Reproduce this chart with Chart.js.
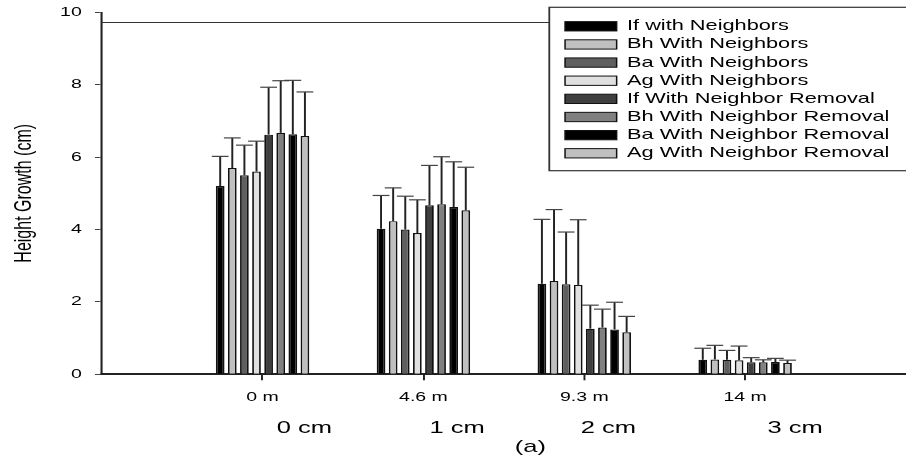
<!DOCTYPE html>
<html>
<head>
<meta charset="utf-8">
<script src="https://cdn.jsdelivr.net/npm/chart.js@4"></script>
<style>
  html, body { margin: 0; padding: 0; background: #fff; overflow: hidden; }
  canvas { display: block; }
</style>
</head>
<body>
<canvas id="c" width="604" height="458"></canvas>
<script>
// The source figure was stretched sideways, so we draw in a narrower space and widen it
const SX = 1.5;
const FONT = '"Liberation Sans", Arial, sans-serif';

// Categories
const distances = ['0 m', '4.6 m', '9.3 m', '14 m'];
const depths = ['0 cm', '1 cm', '2 cm', '3 cm'];
const panelLabel = '(a)';

const seriesNames = [
  'If with Neighbors',
  'Bh With Neighbors',
  'Ba With Neighbors',
  'Ag With Neighbors',
  'If With Neighbor Removal',
  'Bh With Neighbor Removal',
  'Ba With Neighbor Removal',
  'Ag With Neighbor Removal'
];

// Mean height growth (cm) per distance
const ifWith = [5.20, 4.02, 2.50, 0.40];
const bhWith = [5.70, 4.23, 2.58, 0.41];
const baWith = [5.50, 4.00, 2.49, 0.40];
const agWith = [5.60, 3.90, 2.47, 0.39];
const ifRemoval = [6.62, 4.67, 1.26, 0.33];
const bhRemoval = [6.67, 4.70, 1.29, 0.33];
const baRemoval = [6.63, 4.62, 1.24, 0.34];
const agRemoval = [6.58, 4.53, 1.16, 0.31];

// Upper error (cm)
const ifWithErr = [0.82, 0.92, 1.78, 0.32];
const bhWithErr = [0.83, 0.92, 1.97, 0.39];
const baWithErr = [0.83, 0.92, 1.44, 0.26];
const agWithErr = [0.84, 0.92, 1.80, 0.39];
const ifRemovalErr = [1.31, 1.10, 0.65, 0.13];
const bhRemovalErr = [1.44, 1.31, 0.51, 0.07];
const baRemovalErr = [1.49, 1.25, 0.75, 0.10];
const agRemovalErr = [1.22, 1.19, 0.44, 0.08];

const yTicks = [0, 2, 4, 6, 8, 10];

const means = [ifWith, bhWith, baWith, agWith, ifRemoval, bhRemoval, baRemoval, agRemoval];
const errs = [ifWithErr, bhWithErr, baWithErr, agWithErr, ifRemovalErr, bhRemovalErr, baRemovalErr, agRemovalErr];

// Styling / layout
const fills = ['#000000', '#c0c0c0', '#5f5f5f', '#e0e0e0', '#3f3f3f', '#808080', '#000000', '#c0c0c0'];
const depthLabelPos = [1.26, 2.21, 3.15, 4.31]; // in category units
const panelLabelPos = 2.665;
const frameLineValue = 9.72;
const legendBox = { left: 366.2, top: 7.3, bottom: 170.7, firstRow: 26.3, rowGap: 18.14,
  swatchX: 376.7, swatchW: 34.4, swatchH: 9.3, textX: 418 };

// Widen everything drawn
const stretchPlugin = {
  id: 'stretch',
  beforeDraw(chart) {
    chart.ctx.setTransform(SX, 0, 0, 1, 0, 0);
  }
};

// Upper error bars with caps
const errorBarPlugin = {
  id: 'errorBars',
  afterDatasetsDraw(chart) {
    const ctx = chart.ctx;
    const y = chart.scales.y;
    ctx.save();
    chart.data.datasets.forEach((ds, i) => {
      const meta = chart.getDatasetMeta(i);
      meta.data.forEach((bar, j) => {
        const v = ds.data[j];
        const e = ds.err[j];
        if (v == null || e == null) return;
        const top = y.getPixelForValue(v + e);
        ctx.strokeStyle = '#222';
        ctx.lineWidth = 1.3;
        ctx.beginPath();
        ctx.moveTo(bar.x, bar.y);
        ctx.lineTo(bar.x, top);
        ctx.stroke();
        ctx.strokeStyle = '#444';
        ctx.lineWidth = 1.2;
        ctx.beginPath();
        ctx.moveTo(bar.x - 5.6, top);
        ctx.lineTo(bar.x + 5.6, top);
        ctx.stroke();
      });
    });
    ctx.restore();
  }
};

// Depth row, panel label, top frame line and boxed legend
const extrasPlugin = {
  id: 'extras',
  afterDraw(chart) {
    const ctx = chart.ctx;
    const x = chart.scales.x;
    const y = chart.scales.y;
    ctx.save();

    ctx.fillStyle = '#000';
    ctx.font = '17px ' + FONT;
    ctx.textAlign = 'center';
    ctx.textBaseline = 'middle';
    depths.forEach((d, i) => ctx.fillText(d, x.getPixelForValue(depthLabelPos[i]), 428));
    ctx.fillText(panelLabel, x.getPixelForValue(panelLabelPos), 447);

    // top line of the frame, hidden behind the legend on the right
    const fy = y.getPixelForValue(frameLineValue);
    ctx.strokeStyle = '#333';
    ctx.lineWidth = 1;
    ctx.beginPath();
    ctx.moveTo(chart.chartArea.left, fy);
    ctx.lineTo(legendBox.left, fy);
    ctx.stroke();

    // legend
    ctx.lineWidth = 1.2;
    ctx.strokeStyle = '#333';
    ctx.fillStyle = '#fff';
    ctx.fillRect(legendBox.left, legendBox.top, chart.width, legendBox.bottom - legendBox.top);
    ctx.strokeRect(legendBox.left, legendBox.top, chart.width, legendBox.bottom - legendBox.top);
    ctx.font = '14.5px ' + FONT;
    ctx.textAlign = 'left';
    chart.data.datasets.forEach((ds, i) => {
      const cy = legendBox.firstRow + i * legendBox.rowGap;
      ctx.fillStyle = ds.backgroundColor;
      ctx.fillRect(legendBox.swatchX, cy - legendBox.swatchH / 2, legendBox.swatchW, legendBox.swatchH);
      ctx.strokeStyle = '#111';
      ctx.lineWidth = 1;
      ctx.strokeRect(legendBox.swatchX, cy - legendBox.swatchH / 2, legendBox.swatchW, legendBox.swatchH);
      ctx.fillStyle = '#000';
      ctx.fillText(ds.label, legendBox.textX, cy);
    });
    ctx.restore();
  }
};

const chart = new Chart(document.getElementById('c'), {
  type: 'bar',
  data: {
    labels: ['', ...distances, ''],
    datasets: seriesNames.map((name, i) => ({
      label: name,
      data: [null, ...means[i], null],
      err: [null, ...errs[i], null],
      backgroundColor: fills[i],
      borderColor: '#111',
      borderWidth: 1.2,
      borderSkipped: 'bottom',
      categoryPercentage: 0.602,
      barPercentage: 0.72
    }))
  },
  options: {
    responsive: false,
    animation: false,
    devicePixelRatio: 1,
    events: [],
    layout: { padding: { top: 12.3, right: 0, bottom: 0, left: 0 } },
    plugins: {
      legend: { display: false },
      tooltip: { enabled: false }
    },
    scales: {
      x: {
        offset: false,
        grid: {
          offset: false,
          drawOnChartArea: false,
          tickLength: 6,
          lineWidth: 1.3,
          color: (c) => (c.index === 0 || c.index === distances.length + 1) ? 'rgba(0,0,0,0)' : '#222'
        },
        border: { color: '#222', width: 2 },
        ticks: { color: '#000', font: { family: FONT, size: 13 }, padding: 9, maxRotation: 0, autoSkip: false },
        afterFit: (s) => { s.height = 83.7; s.paddingLeft = 0; s.paddingRight = 0; }
      },
      y: {
        min: 0,
        max: 10,
        afterBuildTicks: (s) => { s.ticks = yTicks.map((v) => ({ value: v })); },
        ticks: { color: '#000', font: { family: FONT, size: 13 }, padding: 8.8 },
        grid: { drawOnChartArea: false, tickLength: 4.5, color: '#444', lineWidth: 1 },
        border: { color: '#222', width: 1.4 },
        title: {
          display: true,
          text: 'Height Growth (cm)',
          color: '#000',
          font: { family: FONT, size: 16 },
          padding: { top: 6.4, bottom: 0 }
        },
        afterFit: (s) => { s.width = 67.8; s.paddingTop = 0; s.paddingBottom = 0; }
      }
    }
  },
  plugins: [stretchPlugin, errorBarPlugin, extrasPlugin]
});

// widen the backing store and redraw through the stretch transform
const cv = chart.canvas;
cv.width = Math.round(chart.width * SX);
cv.style.width = cv.width + 'px';
chart.draw();
</script>
</body>
</html>
